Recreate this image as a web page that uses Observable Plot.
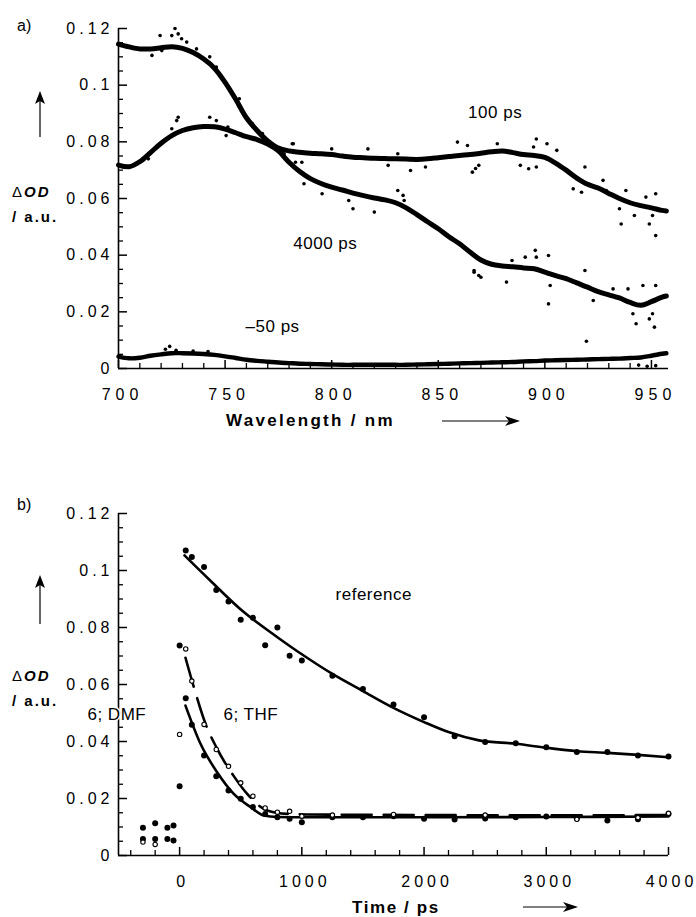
<!DOCTYPE html>
<html><head><meta charset="utf-8">
<script src="https://cdn.jsdelivr.net/npm/d3@7"></script>
<script src="https://cdn.jsdelivr.net/npm/@observablehq/plot@0.6"></script>
<style>
body{margin:0;background:#fff;}
#wrap{position:relative;width:696px;height:917px;background:#fff;font-family:"Liberation Sans",Arial,sans-serif;}
.panel{position:absolute;left:0;}
#overlay{position:absolute;left:0;top:0;pointer-events:none;}
</style></head><body><div id="wrap"><div id="pa" class="panel" style="top:0"></div><div id="pb" class="panel" style="top:470px"></div></div>
<script>
// ---------- Panel a) transient spectra ----------
const wavelengths = [700,705,710,715,720,725,730,735,740,745,750,755,760,765,770,775,780,785,790,795,800,805,810,815,820,825,830,835,840,845,850,855,860,865,870,875,880,885,890,895,900,905,910,915,920,925,930,935,940,945,950,955,957];
const od100ps = [0.1145,0.1135,0.1128,0.1128,0.1132,0.1136,0.1130,0.1115,0.1092,0.1060,0.1010,0.0950,0.0885,0.0840,0.0803,0.0778,0.0768,0.0763,0.0760,0.0758,0.0755,0.0750,0.0746,0.0744,0.0742,0.0741,0.0740,0.0739,0.0738,0.0740,0.0744,0.0748,0.0752,0.0755,0.0760,0.0765,0.0768,0.0762,0.0755,0.0752,0.0745,0.0725,0.0700,0.0672,0.0650,0.0637,0.0618,0.0600,0.0585,0.0575,0.0567,0.0558,0.0556];
const od4000ps = [0.0718,0.0712,0.0730,0.0762,0.0795,0.0822,0.0840,0.0850,0.0854,0.0853,0.0845,0.0832,0.0818,0.0808,0.0792,0.0768,0.0728,0.0695,0.0670,0.0653,0.0640,0.0630,0.0619,0.0610,0.0602,0.0595,0.0585,0.0567,0.0543,0.0518,0.0493,0.0465,0.0440,0.0410,0.0383,0.0368,0.0362,0.0359,0.0355,0.0352,0.0340,0.0328,0.0317,0.0302,0.0287,0.0271,0.0260,0.0249,0.0233,0.0223,0.0236,0.0252,0.0256];
const odMinus50ps = [0.0042,0.0036,0.0038,0.0045,0.0050,0.0054,0.0054,0.0053,0.0051,0.0048,0.0043,0.0037,0.0031,0.0027,0.0024,0.0021,0.0019,0.0017,0.0016,0.0015,0.0014,0.0013,0.0013,0.0013,0.0013,0.0013,0.0013,0.0013,0.0014,0.0015,0.0016,0.0017,0.0018,0.0019,0.0020,0.0021,0.0022,0.0023,0.0025,0.0026,0.0028,0.0029,0.0030,0.0031,0.0032,0.0033,0.0034,0.0035,0.0037,0.0039,0.0045,0.0052,0.0054];
const scatter100ps = [[719.5,0.1175],[725,0.1175],[726.5,0.12],[728,0.1181],[729.6,0.1164],[715.7,0.1105],[720.3,0.1122],[732,0.1152],[736.6,0.1128],[742.8,0.11],[745.9,0.1064],[756.7,0.0952],[762.8,0.0864],[767.5,0.0829],[781.5,0.0793],[777.7,0.0758],[782,0.0793],[800,0.0775],[817,0.0775],[826.5,0.0717],[831,0.0758],[837,0.0699],[844,0.0711],[859,0.0799],[863.7,0.0787],[866,0.0693],[867.5,0.0706],[869,0.0717],[877.7,0.0793],[888.5,0.0717],[892.4,0.0705],[894.7,0.0782],[896,0.081],[896,0.0711],[901,0.0793],[905.6,0.077],[913.3,0.0634],[917.2,0.0622],[918.8,0.0711],[927.3,0.0664],[928.8,0.0628],[935,0.0564],[935.8,0.051],[938,0.0628],[942,0.054],[947.4,0.0605],[949,0.051],[950.5,0.054],[952,0.0617],[952,0.0469]];
const scatter4000ps = [[714,0.074],[725,0.0846],[727.3,0.0875],[728,0.0887],[742.8,0.0887],[745.9,0.0875],[751.3,0.0852],[750.5,0.0822],[783,0.0728],[786,0.0728],[787,0.0652],[795.5,0.0617],[808,0.0593],[810,0.0564],[820,0.0552],[831,0.0628],[833.5,0.0611],[834,0.0593],[866.8,0.0346],[869,0.0328],[866.8,0.034],[870,0.0322],[882,0.0305],[884.6,0.0381],[890.8,0.0393],[895.5,0.0417],[896,0.0393],[901.7,0.0399],[902.5,0.0293],[901.7,0.0228],[918.8,0.0346],[922.7,0.024],[932,0.0281],[939,0.0281],[941.3,0.0193],[942.8,0.0158],[946,0.0293],[949,0.0175],[950.5,0.0193],[952,0.0293],[951.4,0.0146]];
const scatterMinus50ps = [[722,0.0068],[724,0.0078],[727,0.0064],[735,0.0062],[742,0.006],[919.5,0.0096],[944,0.0012],[948,0.0008],[952,0.001]];
const spectrumLabels = [
  {text:"100 ps", w:864, od:0.0904},
  {text:"4000 ps", w:782, od:0.0441},
  {text:"\u201350 ps", w:759.6, od:0.0148}
];
const wlMajorTicks = [700,750,800,850,900,950];
const wlMinorTicks = [710,720,730,740,760,770,780,790,810,820,830,840,860,870,880,890,910,920,930,940];
const odMajorTicks = [0,0.02,0.04,0.06,0.08,0.1,0.12];
const odMinorTicks = [0.005,0.01,0.015,0.025,0.03,0.035,0.045,0.05,0.055,0.065,0.07,0.075,0.085,0.09,0.095,0.105,0.11,0.115];

// ---------- Panel b) kinetics ----------
const refTime = [50,100,200,300,400,500,600,700,800,900,1000,1250,1500,1750,2000,2250,2500,2750,3000,3250,3500,3750,4000];
const refOD   = [0.107,0.1047,0.1012,0.0932,0.0891,0.0827,0.0834,0.0738,0.080,0.0701,0.0684,0.0631,0.0584,0.053,0.0485,0.0418,0.0398,0.0394,0.038,0.0363,0.0363,0.0351,0.0347];
const refFitTime = [40,250,525,800,1000,1250,1500,1750,2000,2200,2450,2750,3000,3250,3500,3750,4000];
const refFitOD   = [0.1053,0.0965,0.0854,0.0766,0.0706,0.0637,0.0577,0.0518,0.0468,0.0433,0.0404,0.0392,0.0378,0.0366,0.036,0.0353,0.0345];
const dmfTime = [-300,-300,-200,-200,-100,-100,-50,-50,0,0,50,100,200,300,400,500,600,700,800,900,1000,1250,1500,1750,2000,2250,2500,2750,3000,3250,3500,3750,4000];
const dmfOD   = [0.0097,0.0058,0.0113,0.0058,0.0097,0.0058,0.0105,0.0053,0.0737,0.0243,0.0552,0.0459,0.0351,0.0278,0.0228,0.0199,0.017,0.0146,0.0134,0.0129,0.0117,0.0134,0.0134,0.0138,0.0129,0.0126,0.013,0.0134,0.0137,0.013,0.0123,0.0127,0.0146];
const dmfFitTime = [48,171,307,443,580,689,800,1000,2000,3000,4000];
const dmfFitOD   = [0.0526,0.0392,0.0292,0.0216,0.017,0.014,0.0135,0.0134,0.0134,0.0135,0.0137];
const thfTime = [-300,-200,0,50,100,200,300,400,500,600,700,800,900,1000,1250,1750,2500,3250,3750,4000];
const thfOD   = [0.0047,0.0039,0.0425,0.0725,0.0612,0.046,0.0372,0.0313,0.0255,0.0208,0.0167,0.0152,0.0155,0.0138,0.0142,0.0144,0.0142,0.0127,0.0133,0.0148];
const thfFitTime = [48,117,212,300,449,553,717,880,1044,2000,3000,4000];
const thfFitOD   = [0.0694,0.059,0.0462,0.038,0.0275,0.0216,0.0158,0.0146,0.0144,0.0142,0.0141,0.0142];
const kineticLabels = [
  {text:"reference", t:1276, od:0.0916},
  {text:"6; THF", t:359, od:0.0495},
  {text:"6; DMF", t:-754, od:0.0495}
];
const timeMajorTicks = [0,1000,2000,3000,4000];
const timeMinorTicks = [-400,-200,200,400,600,800,1200,1400,1600,1800,2200,2400,2600,2800,3200,3400,3600,3800];

// ---------- build ----------
const FONT = '"Liberation Sans", Arial, sans-serif';
const pw = 550; // frame width in px
function zipXY(xs, ys){ return xs.map((x,i)=>({x, y: ys[i]})); }
function pairs(arr){ return arr.map(([x,y])=>({x,y})); }

function axesMarks(xMaj, xMin, yMaj, yMin, xdom, ph, xdx){
  return [
    Plot.ruleX([xdom[0]], {y1: 0, y2: 0.12, stroke:"#000", strokeWidth:1.6}),
    Plot.ruleY([0], {x1: xdom[0], x2: xdom[1], stroke:"#000", strokeWidth:1.6}),
    Plot.tickY(yMin, {y: d=>d, insetRight: pw-5, stroke:"#000", strokeWidth:1.3}),
    Plot.tickY(yMaj, {y: d=>d, insetRight: pw-9, stroke:"#000", strokeWidth:1.5}),
    Plot.tickX(xMin, {x: d=>d, insetTop: ph-5, stroke:"#000", strokeWidth:1.3}),
    Plot.tickX(xMaj, {x: d=>d, insetTop: ph-8, stroke:"#000", strokeWidth:1.5}),
    Plot.axisY({ticks: yMaj, tickSize:0, tickPadding:5, tickFormat: d=>String(d), label:null, fontSize:16, fill:"#000"}),
    Plot.axisX({ticks: xMaj, tickSize:0, tickPadding:20, tickFormat: d=>String(d), label:null, fontSize:16, fill:"#000", dx:xdx})
  ];
}

const plotA = Plot.plot({
  width:696, height:430, marginLeft:118, marginRight:28, marginTop:28, marginBottom:62,
  style:{fontFamily:FONT, fontSize:"16px", color:"#000", background:"transparent", overflow:"visible"},
  x:{domain:[700,958]}, y:{domain:[0,0.12]},
  marks:[
    ...axesMarks(wlMajorTicks, wlMinorTicks, odMajorTicks, odMinorTicks, [700,958], 340, 4),
    Plot.line(zipXY(wavelengths, odMinus50ps), {x:"x", y:"y", curve:"catmull-rom", stroke:"#000", strokeWidth:4.4}),
    Plot.line(zipXY(wavelengths, od4000ps), {x:"x", y:"y", curve:"catmull-rom", stroke:"#000", strokeWidth:5}),
    Plot.line(zipXY(wavelengths, od100ps), {x:"x", y:"y", curve:"catmull-rom", stroke:"#000", strokeWidth:5}),
    Plot.dot(pairs(scatter100ps), {x:"x", y:"y", r:1.8, fill:"#000"}),
    Plot.dot(pairs(scatter4000ps), {x:"x", y:"y", r:1.8, fill:"#000"}),
    Plot.dot(pairs(scatterMinus50ps), {x:"x", y:"y", r:1.8, fill:"#000"}),
    Plot.text(spectrumLabels, {x:"w", y:"od", text:"text", textAnchor:"start", lineAnchor:"middle", fontSize:17, fill:"#000"})
  ]
});

const plotB = Plot.plot({
  width:696, height:447, marginLeft:118, marginRight:28, marginTop:43, marginBottom:62,
  style:{fontFamily:FONT, fontSize:"16px", color:"#000", background:"transparent", overflow:"visible"},
  x:{domain:[-500,4000]}, y:{domain:[0,0.12]},
  marks:[
    ...axesMarks(timeMajorTicks, timeMinorTicks, odMajorTicks, odMinorTicks, [-500,4000], 342, 3),
    Plot.line(zipXY(refFitTime, refFitOD), {x:"x", y:"y", curve:"monotone-x", stroke:"#000", strokeWidth:2.6}),
    Plot.line(zipXY(dmfFitTime, dmfFitOD), {x:"x", y:"y", curve:"monotone-x", stroke:"#000", strokeWidth:2.6}),
    Plot.line(zipXY(thfFitTime, thfFitOD), {x:"x", y:"y", curve:"monotone-x", stroke:"#000", strokeWidth:2.6, strokeDasharray:"30,12"}),
    Plot.dot(zipXY(refTime, refOD), {x:"x", y:"y", r:3, fill:"#000"}),
    Plot.dot(zipXY(dmfTime, dmfOD), {x:"x", y:"y", r:3, fill:"#000"}),
    Plot.dot(zipXY(thfTime, thfOD), {x:"x", y:"y", r:2.2, fill:"#fff", stroke:"#000", strokeWidth:1.1}),
    Plot.text(kineticLabels, {x:"t", y:"od", text:"text", textAnchor:"start", lineAnchor:"middle", fontSize:17, fill:"#000", stroke:"#fff", strokeWidth:3, paintOrder:"stroke"})
  ]
});

function spaceLabels(svg, xLS, yLS){
  d3.select(svg).selectAll('[aria-label="x-axis tick label"] text').style("letter-spacing", xLS+"px");
  d3.select(svg).selectAll('[aria-label="y-axis tick label"] text').style("letter-spacing", yLS+"px");
  d3.select(svg).selectAll('[aria-label="text"] text').style("letter-spacing", "0.5px");
}
spaceLabels(plotA, 5, 4);
spaceLabels(plotB, 4, 4);
document.getElementById("pa").appendChild(plotA);
document.getElementById("pb").appendChild(plotB);

// ---------- overlay: panel letters, axis titles, arrows ----------
const ov = d3.select("#wrap").append("svg").attr("id","overlay").attr("width",696).attr("height",917)
  .style("font-family", FONT);
function odTitle(y){
  const t = ov.append("text").attr("x",12).attr("y",y).attr("font-size",15).style("letter-spacing","2px");
  t.append("tspan").text("\u0394");
  t.append("tspan").attr("font-weight","bold").attr("font-style","italic").text("OD");
  ov.append("text").attr("x",12).attr("y",y+25).attr("font-size",15).attr("font-weight","bold").style("letter-spacing","2px").text("/ a.u.");
}
function upArrow(x, yTip, yEnd){
  ov.append("line").attr("x1",x).attr("x2",x).attr("y1",yTip+8).attr("y2",yEnd).attr("stroke","#000").attr("stroke-width",1.2);
  ov.append("path").attr("d",`M${x},${yTip} L${x-5},${yTip+13} L${x},${yTip+10} L${x+5},${yTip+13} Z`).attr("fill","#000");
}
function rightArrow(x1, x2, y){
  ov.append("line").attr("x1",x1).attr("x2",x2-8).attr("y1",y).attr("y2",y).attr("stroke","#000").attr("stroke-width",1.2);
  ov.append("path").attr("d",`M${x2},${y} L${x2-15},${y-5} L${x2-11},${y} L${x2-15},${y+5} Z`).attr("fill","#000");
}
ov.append("text").attr("x",17).attr("y",31).attr("font-size",16).text("a)");
ov.append("text").attr("x",17).attr("y",510).attr("font-size",16).text("b)");
odTitle(197);
odTitle(681);
upArrow(40, 91, 137);
upArrow(40, 575, 624);
ov.append("text").attr("x",226).attr("y",426).attr("font-size",17).attr("font-weight","bold").style("letter-spacing","2.3px").text("Wavelength / nm");
rightArrow(442, 520, 421);
ov.append("text").attr("x",352).attr("y",913).attr("font-size",17).attr("font-weight","bold").style("letter-spacing","1.6px").text("Time / ps");
rightArrow(523, 578, 907);
</script></body></html>
